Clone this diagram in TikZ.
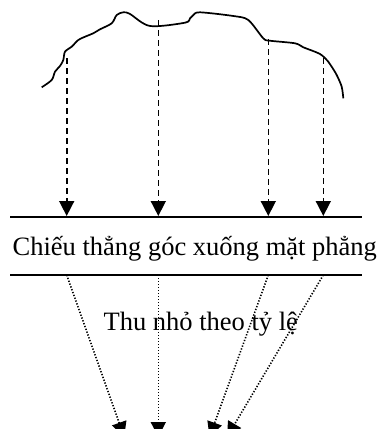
\documentclass[tikz,border=0pt]{standalone}
\usepackage{fontspec}
\setmainfont{Liberation Serif}
\usetikzlibrary{arrows.meta}
\begin{document}
\begin{tikzpicture}[x=1pt,y=-1pt,
  solid line/.style={line width=1.7pt},
  proj/.style={line width=1.6pt,dash pattern=on 6pt off 4pt,-{Triangle[width=15pt,length=15pt]}},
  scale arrow/.style={line width=1.6pt,dash pattern=on 1.3pt off 1.7pt,-{Triangle[width=15pt,length=15pt]}},
  lbl/.style={font=\fontsize{26.5}{30}\selectfont,inner sep=0pt,anchor=base}]
\useasboundingbox (0,0) rectangle (378,429);
% terrain outline
\draw[line width=1.7pt,line join=round] plot[smooth,tension=0.5] coordinates {
 (41.7,87.3) (51.7,80) (55,71.7) (60,66) (63.3,60) (65,51.7) (71.7,46.7) (78.3,40)
 (86.7,36) (93.3,33.3) (100,29.3) (111.7,23.3) (116.7,15) (123.3,12.3) (130,14)
 (150,26) (185,22.7) (190,18.3) (193.3,15) (200,12.3) (233.3,16) (248.3,20)
 (263.3,38.3) (270,40.7) (295,43.3) (303.3,47.3) (320,54) (328.3,61.7)
 (331.7,66.7) (336.7,75) (341.7,86.7) (343.3,98.3)};
% start points on the terrain
\coordinate (a1) at (66.7,58);
\coordinate (a2) at (158.3,20);
\coordinate (a3) at (268.3,39);
\coordinate (a4) at (323.3,58);
% plane lines
\coordinate (p1) at (10,216.7);
\coordinate (p2) at (361.7,216.7);
\coordinate (q1) at (10,275);
\coordinate (q2) at (361.7,275);
\draw[solid line] (p1) -- (p2);
\draw[solid line] (q1) -- (q2);
% projection arrows
\coordinate (b1) at (66.7,216);
\coordinate (b2) at (158.3,216);
\coordinate (b3) at (268.3,216);
\coordinate (b4) at (323.3,216);
\draw[proj] (a1) -- (b1);
\draw[proj] (a2) -- (b2);
\draw[proj] (a3) -- (b3);
\draw[proj] (a4) -- (b4);
% labels
\node[lbl] (t1) at (194.8,255) {Chiếu thẳng góc xuống mặt phẳng};
\node[lbl] (t2) at (200.8,330) {Thu nhỏ theo tỷ lệ};
% scaling arrows
\coordinate (c1) at (66.7,275);
\coordinate (c2) at (158.3,275);
\coordinate (c3) at (268.3,275);
\coordinate (c4) at (323.3,275);
\coordinate (d1) at (124.2,437);
\coordinate (d2) at (158.3,437);
\coordinate (d3) at (209.5,437);
\coordinate (d4) at (227,437);
\draw[scale arrow] (c1) -- (d1);
\draw[scale arrow] (c2) -- (d2);
\draw[scale arrow] (c3) -- (d3);
\draw[scale arrow] (c4) -- (d4);
\end{tikzpicture}
\end{document}
